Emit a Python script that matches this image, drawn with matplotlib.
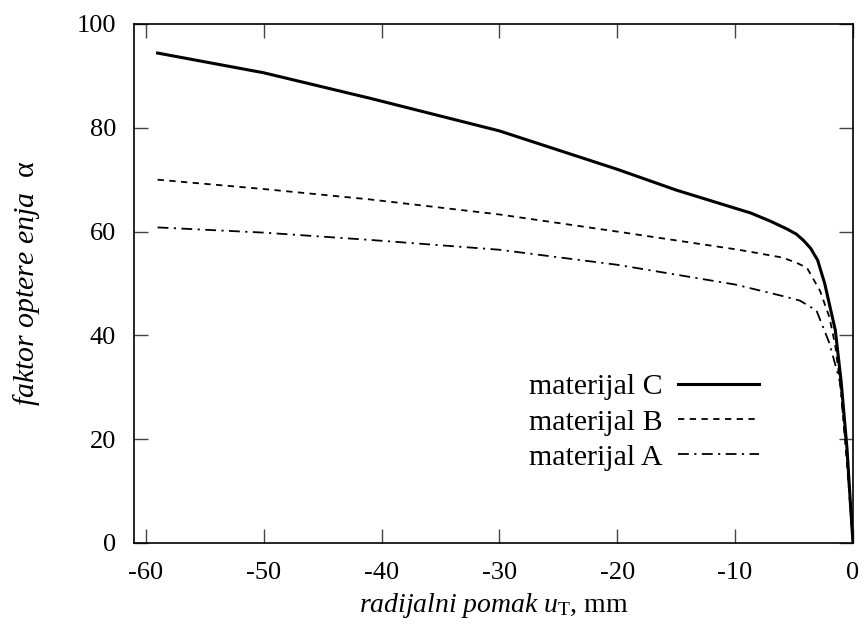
import matplotlib
matplotlib.use("Agg")
import matplotlib.pyplot as plt

plt.rcParams['font.family'] = ['Liberation Serif', 'DejaVu Serif']
plt.rcParams['mathtext.fontset'] = 'custom'
plt.rcParams['mathtext.rm'] = 'Liberation Serif'
plt.rcParams['mathtext.it'] = 'Liberation Serif:italic'

# displacement (mm) and load factor values
x_C = [-59, -50, -41, -30, -20, -15, -10, -8.7, -7, -5.6, -4.8, -4.2, -3.6, -3.0, -2.4, -2.0, -1.5, -1.0, -0.5, -0.25, 0]
y_C = [94.4, 90.6, 85.7, 79.4, 72.0, 68.0, 64.5, 63.6, 62.0, 60.5, 59.5, 58.3, 56.8, 54.5, 50.0, 46.0, 41.0, 31.0, 18.0, 8.8, 0]

x_B = [-59, -50, -41, -30, -20, -10, -8.7, -6, -4.8, -3.9, -2.8, -2.0, -1.5, -1.0, -0.5, 0]
y_B = [70.0, 68.2, 66.2, 63.3, 60.0, 56.6, 56.1, 55.0, 54.0, 53.0, 48.6, 43.5, 38.0, 29.0, 15.0, 0]

x_A = [-59, -50, -41, -30, -20, -10, -6, -4.5, -3.1, -2.0, -1.1, -0.5, 0]
y_A = [60.8, 59.8, 58.4, 56.5, 53.6, 49.8, 47.6, 46.7, 44.8, 38.5, 31.0, 16.0, 0]

labels = ["materijal C", "materijal B", "materijal A"]
xticks = [-60, -50, -40, -30, -20, -10, 0]
yticks = [0, 20, 40, 60, 80, 100]

fig = plt.figure(figsize=(8.68, 6.28), dpi=100)
ax = fig.add_axes([0.1544, 0.1354, 0.8283, 0.8264])

ax.plot(x_C, y_C, color='black', lw=2.2, solid_joinstyle='round', label=labels[0])
ax.plot(x_B, y_B, color='black', lw=1.3, dashes=(3.5, 3), label=labels[1])
ax.plot(x_A, y_A, color='black', lw=1.3, dashes=(6, 3, 1.2, 3), label=labels[2])

ax.set_xlim(-61, 0)
ax.set_ylim(0, 100)
ax.set_xticks(xticks)
ax.set_yticks(yticks)
ax.set_xticklabels([str(t) for t in xticks])
ax.set_yticklabels([str(t) for t in yticks])
ax.tick_params(direction='in', length=10, width=1, top=True, right=True,
               labelsize=19, color='#444444')
ax.tick_params(axis='x', pad=14)
ax.tick_params(axis='y', pad=13)
for s in ax.spines.values():
    s.set_linewidth(1.2)

ax.set_xlabel(r"$\mathit{radijalni\ pomak\ u}_\mathrm{T}$, mm", fontsize=20, labelpad=5)
ax.set_ylabel(r"$\mathit{faktor\ optere\ enja}$  α", fontsize=21.5, labelpad=25)

leg = ax.legend(loc='lower right', bbox_to_anchor=(0.906, 0.087), frameon=False,
                markerfirst=False, fontsize=21.5, handlelength=2.7, handletextpad=0.5,
                labelspacing=0.28)

fig.savefig("out.png", dpi=100)
